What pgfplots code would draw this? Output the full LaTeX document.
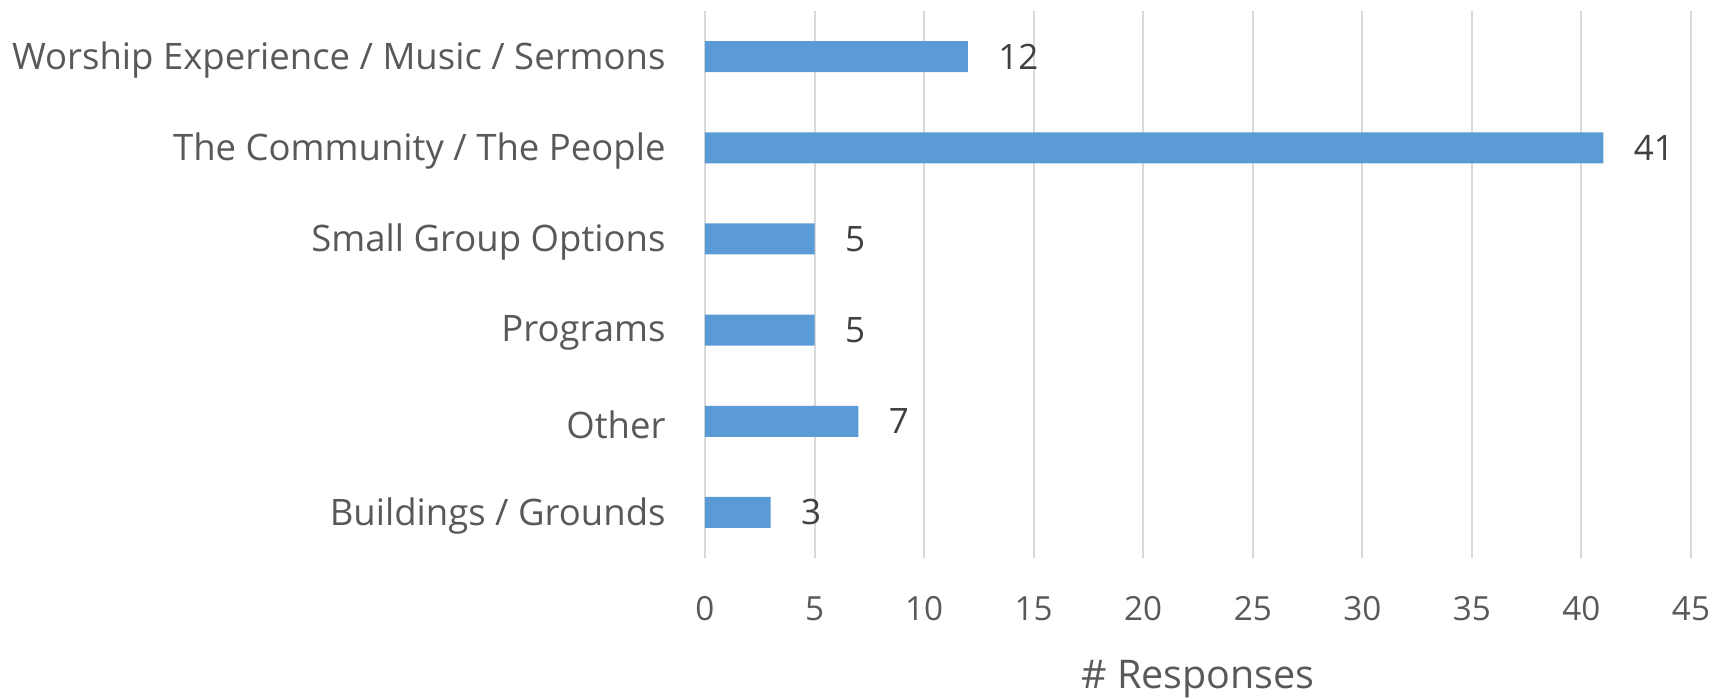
\documentclass[border=0pt]{standalone}
\usepackage{fontspec}
\setmainfont{Open Sans}
\usepackage{pgfplots}
\pgfplotsset{compat=1.18}
\definecolor{barblue}{HTML}{5B9BD5}
\definecolor{txtgray}{HTML}{595959}
\definecolor{valgray}{HTML}{404040}
\definecolor{gridgray}{HTML}{D9D9D9}
\begin{document}
\begin{tikzpicture}
\begin{axis}[
  name=a,
  scale only axis,
  width=394.4pt, height=218.8pt,
  xbar, bar width=12.4pt,
  xmin=0, xmax=45,
  ymin=-0.5, ymax=5.5,
  xtick={0,5,...,45},
  ytick={0,1,2,3,4,5},
  yticklabels={Buildings / Grounds, Other, Programs, Small Group Options, The Community / The People, Worship Experience / Music / Sermons},
  axis line style={draw=none},
  major tick length=0pt,
  xmajorgrids, grid style={gridgray, line width=0.8pt},
  /pgf/number format/assume math mode=true,
  tick label style={font=\fontsize{13.3}{15}\selectfont, text=txtgray},
  yticklabel style={anchor=east, inner sep=0pt, xshift=-15.6pt, yshift=-1.3pt, font=\fontsize{14.6}{17}\selectfont},
  xticklabel style={anchor=center, inner sep=0pt, yshift=-20.4pt},
  xlabel={\# Responses},
  xlabel style={at={(axis description cs:0.5,0)}, anchor=center, yshift=-48.6pt, font=\fontsize{15.8}{18}\selectfont, text=txtgray},
  nodes near coords,
  every node near coord/.append style={anchor=west, inner sep=0pt, xshift=12pt, font=\fontsize{14}{16}\selectfont, text=valgray},
  clip=false,
]
\addplot[fill=barblue, draw=none] coordinates {(3,0) (7,1) (5,2) (5,3) (41,4) (12,5)};
\end{axis}
\pgfresetboundingbox
\path (a.south west) ++(-282pt,-56.4pt) rectangle ++(693.2pt,279.6pt);
\end{tikzpicture}
\end{document}
